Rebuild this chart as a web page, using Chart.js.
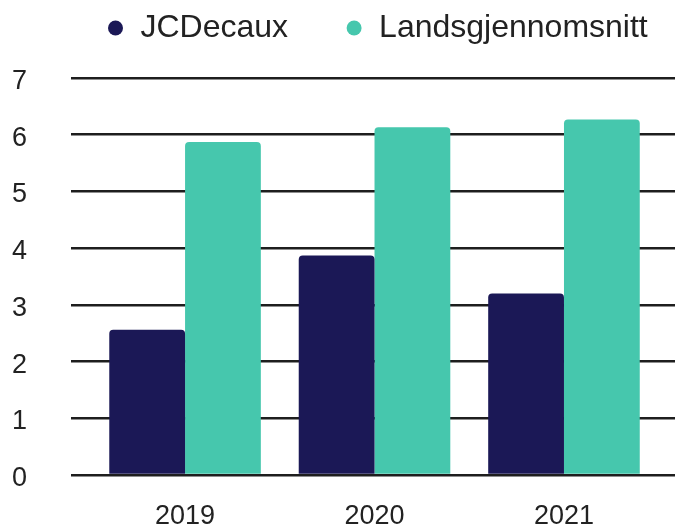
<!DOCTYPE html>
<html>
<head>
<meta charset="utf-8">
<script src="https://cdn.jsdelivr.net/npm/chart.js@4"></script>
<style>
  html, body { margin: 0; padding: 0; background: #fff; overflow: hidden; }
  #wrap { position: relative; width: 675px; height: 525px; overflow: hidden; }
  /* canvas pushed up a bit so the legend padding sits above the page */
  #myChart { position: absolute; left: 0; top: -45px; }
</style>
</head>
<body>
<div id="wrap">
  <canvas id="myChart" width="675" height="570"></canvas>
</div>
<script>
// Data
const years = ['2019', '2020', '2021'];
const jcdecaux = [2.56, 3.87, 3.2];
const landsgjennomsnitt = [5.87, 6.13, 6.27];
const yTicks = [0, 1, 2, 3, 4, 5, 6, 7];

const font = "'Liberation Sans', Arial, Helvetica, sans-serif";

// bars sit on a linear x scale so the groups can be placed like in the original
function toPoints(values) {
    return values.map((v, i) => ({ x: i, y: v }));
}

// keep the legend on one row, add space under it
const legendMargin = {
    id: 'legendMargin',
    beforeInit(chart) {
        const fitValue = chart.legend.fit;
        chart.legend.fit = function fit() {
            const mw = this.maxWidth;
            this.maxWidth = Math.max(mw, 800);
            fitValue.bind(chart.legend)();
            this.maxWidth = mw;
            this.width = Math.min(this.width, mw);
            this.height += 24;
        };
    },
    afterLayout(chart) {
        // start the legend a bit left of the plot and let it run past the edge
        const lg = chart.legend;
        lg.left = chart.chartArea.left - 21.5;
        lg.right = chart.width + 200;
        lg.width = lg.right - lg.left;
    }
};

var ctx = document.getElementById('myChart').getContext('2d');
var myChart = new Chart(ctx, {
    type: 'bar',
    data: {
        datasets: [{
            label: 'JCDecaux',
            data: toPoints(jcdecaux),
            backgroundColor: '#1b1856',
            borderRadius: 4,
            categoryPercentage: 0.8,
            barPercentage: 1.0,
        }, {
            label: 'Landsgjennomsnitt',
            data: toPoints(landsgjennomsnitt),
            backgroundColor: '#46c7ad',
            borderRadius: 4,
            categoryPercentage: 0.8,
            barPercentage: 1.0,
        }],
    },
    options: {
        responsive: false,
        animation: false,
        layout: { padding: { left: 12, right: 0, top: 0, bottom: 0 } },
        plugins: {
            legend: {
                position: 'top',
                align: 'start',
                fullSize: false,
                labels: {
                    usePointStyle: true,
                    pointStyle: 'circle',
                    boxWidth: 18,
                    boxHeight: 10.6,
                    padding: 57,
                    color: '#222',
                    font: { family: font, size: 32 },
                },
            },
            tooltip: { enabled: false },
        },
        scales: {
            x: {
                type: 'linear',
                offset: false,
                min: -0.602,
                max: 2.586,
                grid: { display: false },
                border: { display: false },
                afterBuildTicks: scale => {
                    scale.ticks = years.map((y, i) => ({ value: i }));
                },
                afterFit: scale => { scale.height = 50; },
                ticks: {
                    padding: 17,
                    color: '#222',
                    font: { family: font, size: 27 },
                    callback: value => years[value] || '',
                },
            },
            y: {
                min: 0,
                max: 7,
                afterBuildTicks: scale => {
                    scale.ticks = yTicks.map(v => ({ value: v }));
                },
                afterFit: scale => { scale.width = 59; },
                grid: {
                    color: '#1e1e1e',
                    lineWidth: 2.5,
                    drawTicks: false,
                },
                border: { display: false },
                ticks: {
                    crossAlign: 'far',
                    padding: 0,
                    labelOffset: 3.5,
                    color: '#222',
                    font: { family: font, size: 27 },
                },
            },
        },
    },
    plugins: [legendMargin],
});
</script>
</body>
</html>
